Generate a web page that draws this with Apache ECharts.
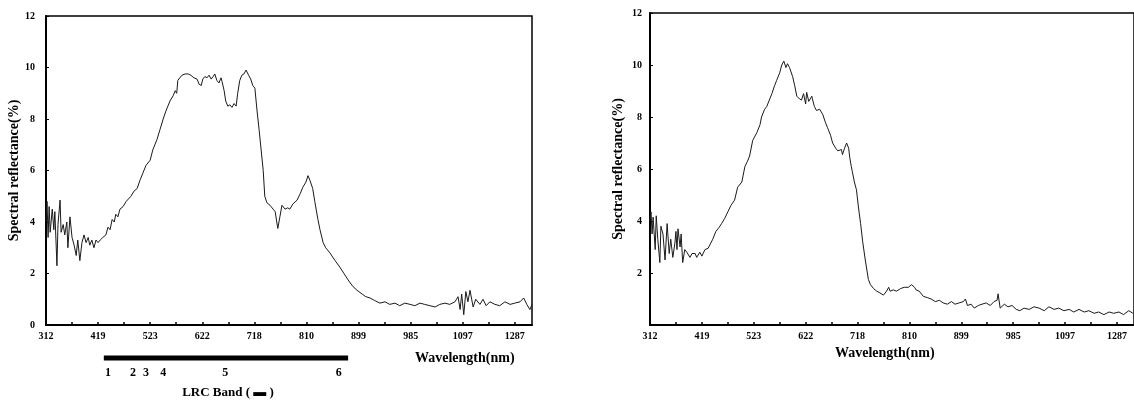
<!DOCTYPE html>
<html>
<head>
<meta charset="utf-8">
<script src="https://cdn.jsdelivr.net/npm/echarts@6/dist/echarts.min.js"></script>
<style>
  html, body { margin: 0; padding: 0; background: #fff; }
  #main { width: 1134px; height: 400px; }
</style>
</head>
<body>
<div id="main"></div>
<script>
// wavelength tick labels (equally spaced on the axis)
var tickLabels = ['312', '419', '523', '622', '718', '810', '899', '985', '1097', '1287'];
var yTicks = [0, 2, 4, 6, 8, 10, 12];

// left spectrum: position along axis (tick units) and reflectance (%)
var leftPos = [0.00, 0.02, 0.04, 0.06, 0.08, 0.12, 0.15, 0.17, 0.21, 0.23, 0.27, 0.29, 0.33, 0.36, 0.40, 0.42, 0.46, 0.50, 0.54, 0.58,
  0.61, 0.65, 0.69, 0.73, 0.77, 0.81, 0.84, 0.88, 0.92, 0.96, 1.00, 1.04, 1.09, 1.15, 1.19, 1.23, 1.27, 1.31, 1.34, 1.38,
  1.42, 1.48, 1.54, 1.57, 1.63, 1.69, 1.75, 1.80, 1.86, 1.92, 2.00, 2.05, 2.13, 2.19, 2.25, 2.30, 2.38, 2.44, 2.48, 2.51,
  2.53, 2.57, 2.61, 2.67, 2.73, 2.78, 2.84, 2.90, 2.94, 2.98, 3.01, 3.05, 3.09, 3.13, 3.17, 3.21, 3.24, 3.28, 3.32, 3.36,
  3.38, 3.42, 3.45, 3.49, 3.53, 3.57, 3.61, 3.65, 3.68, 3.72, 3.76, 3.80, 3.84, 3.86, 3.89, 3.93, 3.97, 4.01, 4.05, 4.09,
  4.13, 4.17, 4.20, 4.24, 4.30, 4.36, 4.40, 4.43, 4.45, 4.49, 4.53, 4.59, 4.64, 4.68, 4.74, 4.82, 4.88, 4.93, 4.99, 5.03,
  5.07, 5.12, 5.16, 5.22, 5.26, 5.32, 5.37, 5.45, 5.55, 5.64, 5.72, 5.80, 5.89, 5.97, 6.07, 6.14, 6.22, 6.31, 6.41, 6.51,
  6.60, 6.70, 6.79, 6.89, 6.99, 7.08, 7.18, 7.27, 7.37, 7.47, 7.56, 7.66, 7.75, 7.85, 7.91, 7.95, 7.98, 8.02, 8.06, 8.10,
  8.14, 8.20, 8.25, 8.33, 8.39, 8.45, 8.52, 8.62, 8.71, 8.81, 8.91, 9.00, 9.10, 9.17, 9.23, 9.29, 9.33];
var leftVal = [4.0, 4.8, 3.4, 4.6, 3.6, 4.5, 3.7, 4.4, 2.3, 3.9, 4.85, 3.6, 3.9, 3.5, 4.0, 3.0, 4.2, 3.4, 3.1, 2.7,
  3.3, 2.5, 3.2, 3.5, 3.2, 3.4, 3.1, 3.3, 3.0, 3.3, 3.2, 3.3, 3.4, 3.5, 3.8, 3.7, 4.1, 4.0, 4.3, 4.2,
  4.5, 4.6, 4.8, 4.75, 5.0, 5.2, 5.3, 5.6, 5.9, 6.2, 6.4, 6.8, 7.2, 7.6, 8.0, 8.3, 8.7, 8.9, 9.1, 9.0,
  9.5, 9.6, 9.7, 9.75, 9.75, 9.7, 9.6, 9.55, 9.35, 9.3, 9.55, 9.65, 9.6, 9.7, 9.55, 9.65, 9.75, 9.5, 9.4, 9.6,
  9.45, 9.1, 8.7, 8.5, 8.55, 8.45, 8.6, 8.5, 9.0, 9.5, 9.7, 9.75, 9.9, 9.95, 9.7, 9.55, 9.3, 9.2, 8.35, 7.6,
  6.8, 6.0, 5.0, 4.75, 4.65, 4.5, 4.4, 4.0, 3.75, 4.2, 4.65, 4.5, 4.55, 4.5, 4.7, 4.85, 5.1, 5.35, 5.55, 5.8,
  5.6, 5.3, 4.8, 4.1, 3.7, 3.2, 3.0, 2.8, 2.5, 2.25, 2.0, 1.75, 1.5, 1.35, 1.2, 1.1, 1.05, 0.95, 0.85, 0.9,
  0.8, 0.85, 0.75, 0.85, 0.8, 0.75, 0.85, 0.8, 0.75, 0.7, 0.8, 0.85, 0.8, 0.9, 1.1, 0.6, 1.2, 0.4, 1.3, 0.9,
  1.35, 0.7, 1.0, 0.8, 1.0, 0.75, 0.9, 0.8, 0.75, 0.9, 0.8, 0.85, 0.9, 1.05, 0.8, 0.6, 0.8];

// right spectrum
var rightPos = [0.00, 0.02, 0.04, 0.06, 0.10, 0.12, 0.15, 0.19, 0.21, 0.25, 0.29, 0.33, 0.37, 0.40, 0.44, 0.48, 0.50, 0.52, 0.54, 0.58,
  0.60, 0.63, 0.67, 0.71, 0.77, 0.81, 0.87, 0.90, 0.96, 1.00, 1.06, 1.12, 1.15, 1.21, 1.27, 1.33, 1.38, 1.44, 1.50, 1.56,
  1.63, 1.69, 1.77, 1.83, 1.88, 1.92, 1.98, 2.06, 2.12, 2.15, 2.21, 2.25, 2.31, 2.35, 2.40, 2.44, 2.50, 2.54, 2.58, 2.62,
  2.65, 2.69, 2.75, 2.79, 2.83, 2.88, 2.92, 2.96, 3.00, 3.02, 3.06, 3.08, 3.12, 3.13, 3.17, 3.21, 3.27, 3.33, 3.38, 3.42,
  3.48, 3.52, 3.58, 3.62, 3.65, 3.69, 3.71, 3.75, 3.79, 3.83, 3.85, 3.88, 3.90, 3.94, 3.98, 4.02, 4.06, 4.10, 4.15, 4.19,
  4.21, 4.25, 4.31, 4.37, 4.42, 4.50, 4.56, 4.60, 4.63, 4.69, 4.75, 4.83, 4.90, 4.98, 5.04, 5.10, 5.13, 5.19, 5.27, 5.35,
  5.42, 5.50, 5.58, 5.65, 5.73, 5.81, 5.88, 5.96, 6.04, 6.08, 6.12, 6.19, 6.25, 6.33, 6.40, 6.48, 6.56, 6.63, 6.69, 6.71,
  6.75, 6.83, 6.90, 6.98, 7.06, 7.13, 7.21, 7.31, 7.40, 7.50, 7.60, 7.69, 7.79, 7.88, 7.98, 8.08, 8.17, 8.27, 8.37, 8.46,
  8.56, 8.65, 8.75, 8.85, 8.94, 9.04, 9.13, 9.23, 9.31];
var rightVal = [4.0, 4.35, 3.5, 4.15, 2.9, 4.2, 3.3, 2.4, 3.8, 3.5, 2.5, 3.9, 2.75, 3.3, 2.6, 3.15, 3.6, 2.9, 3.7, 3.0,
  3.5, 2.4, 2.9, 2.8, 2.6, 2.75, 2.75, 2.6, 2.8, 2.65, 2.9, 2.95, 3.0, 3.3, 3.6, 3.75, 3.9, 4.1, 4.35, 4.6,
  4.8, 5.3, 5.5, 6.1, 6.3, 6.5, 7.1, 7.4, 7.7, 8.0, 8.3, 8.4, 8.7, 8.9, 9.2, 9.4, 9.7, 10.0, 10.15, 9.9,
  10.05, 9.9, 9.55, 9.2, 8.8, 8.7, 8.65, 8.9, 8.5, 8.95, 8.6, 8.65, 8.8, 8.7, 8.4, 8.25, 8.3, 8.1, 7.8, 7.6,
  7.3, 7.0, 6.8, 6.7, 6.65, 6.75, 6.55, 6.8, 7.0, 6.8, 6.45, 6.1, 5.9, 5.5, 5.2, 4.5, 3.9, 3.2, 2.5, 2.0,
  1.75, 1.55, 1.4, 1.3, 1.25, 1.15, 1.3, 1.45, 1.3, 1.35, 1.3, 1.4, 1.45, 1.45, 1.55, 1.45, 1.35, 1.3, 1.1, 1.05,
  1.0, 0.9, 0.95, 0.85, 0.8, 0.9, 0.8, 0.85, 0.9, 1.0, 0.75, 0.8, 0.65, 0.75, 0.8, 0.85, 0.75, 0.9, 0.95, 1.2,
  0.65, 0.8, 0.7, 0.75, 0.6, 0.55, 0.65, 0.6, 0.7, 0.65, 0.55, 0.7, 0.6, 0.65, 0.55, 0.6, 0.5, 0.6, 0.5, 0.55,
  0.45, 0.5, 0.4, 0.5, 0.45, 0.5, 0.4, 0.55, 0.45];

// LRC band under the left chart (axis tick units)
var lrcRange = [1.11, 5.80];
var lrcLabels = ['1', '2', '3', '4', '5', '6'];
var lrcPos = [1.19, 1.67, 1.92, 2.25, 3.44, 5.62];

var serif = '"Liberation Serif", "DejaVu Serif", serif';

function pairs(xs, ys) {
  return xs.map(function (x, i) { return [x, ys[i]]; });
}

function xAxisCfg(idx) {
  return {
    gridIndex: idx,
    type: 'value',
    min: 0,
    max: 9.33,
    interval: 0.5,
    axisLine: { show: true, onZero: false, lineStyle: { color: '#000', width: 2 } },
    axisTick: { show: true, inside: true, length: 3, lineStyle: { color: '#000', width: 1.5 } },
    splitLine: { show: false },
    axisLabel: {
      margin: 6,
      color: '#000',
      fontFamily: serif,
      fontWeight: 'bold',
      fontSize: 10,
      showMaxLabel: false,
      formatter: function (v) {
        var r = Math.round(v);
        return Math.abs(v - r) < 1e-6 && tickLabels[r] ? tickLabels[r] : '';
      }
    }
  };
}

function yAxisCfg(idx, showZero, margin, gap) {
  return {
    gridIndex: idx,
    type: 'value',
    min: yTicks[0],
    max: yTicks[yTicks.length - 1],
    interval: 2,
    name: 'Spectral reflectance(%)',
    nameLocation: 'middle',
    nameGap: gap,
    nameTextStyle: { color: '#000', fontFamily: serif, fontWeight: 'bold', fontSize: 14 },
    axisLine: { show: true, lineStyle: { color: '#000', width: 2 } },
    axisTick: { show: true, inside: true, length: 3, lineStyle: { color: '#000' } },
    splitLine: { show: false },
    axisLabel: {
      margin: margin,
      color: '#000',
      fontFamily: serif,
      fontWeight: 'bold',
      fontSize: 10,
      formatter: function (v) { return (v === 0 && !showZero) ? '' : String(v); }
    }
  };
}

var chart = echarts.init(document.getElementById('main'), null, { renderer: 'canvas' });

var option = {
  backgroundColor: '#fff',
  animation: false,
  grid: [
    { left: 46, top: 16, width: 486, height: 309, show: true, borderColor: '#000', borderWidth: 1.5 },
    { left: 650, top: 13, width: 486, height: 312, show: true, borderColor: '#000', borderWidth: 1.5 }
  ],
  xAxis: [xAxisCfg(0), xAxisCfg(1)],
  yAxis: [yAxisCfg(0, true, 11, 24), yAxisCfg(1, false, 8, 25)],
  series: [
    {
      type: 'line',
      xAxisIndex: 0,
      yAxisIndex: 0,
      symbol: 'none',
      lineStyle: { color: '#1a1a1a', width: 1 },
      data: pairs(leftPos, leftVal)
    },
    {
      type: 'line',
      xAxisIndex: 1,
      yAxisIndex: 1,
      symbol: 'none',
      lineStyle: { color: '#1a1a1a', width: 1 },
      data: pairs(rightPos, rightVal)
    }
  ]
};

chart.setOption(option);

// annotations: axis titles and LRC band
var toPx = function (v) { return chart.convertToPixel({ xAxisIndex: 0 }, v); };
var x0 = toPx(lrcRange[0]);
var x1 = toPx(lrcRange[1]);
var textStyle = { fill: '#000', font: 'bold 12px ' + serif, textAlign: 'center', textVerticalAlign: 'middle' };

var graphics = [
  { type: 'text', left: 415, top: 351, style: { text: 'Wavelength(nm)', fill: '#000', font: 'bold 14px ' + serif } },
  { type: 'text', left: 835, top: 346, style: { text: 'Wavelength(nm)', fill: '#000', font: 'bold 14px ' + serif } },
  { type: 'rect', shape: { x: x0, y: 355.5, width: x1 - x0, height: 5 }, style: { fill: '#000' } },
  { type: 'text', x: 228, y: 393, style: Object.assign({ text: 'LRC Band ( \u25AC )' }, textStyle, { font: 'bold 13px ' + serif }) }
];
lrcLabels.forEach(function (lab, i) {
  graphics.push({ type: 'text', x: toPx(lrcPos[i]), y: 373, style: Object.assign({ text: lab }, textStyle) });
});

chart.setOption({ graphic: graphics });
</script>
</body>
</html>
